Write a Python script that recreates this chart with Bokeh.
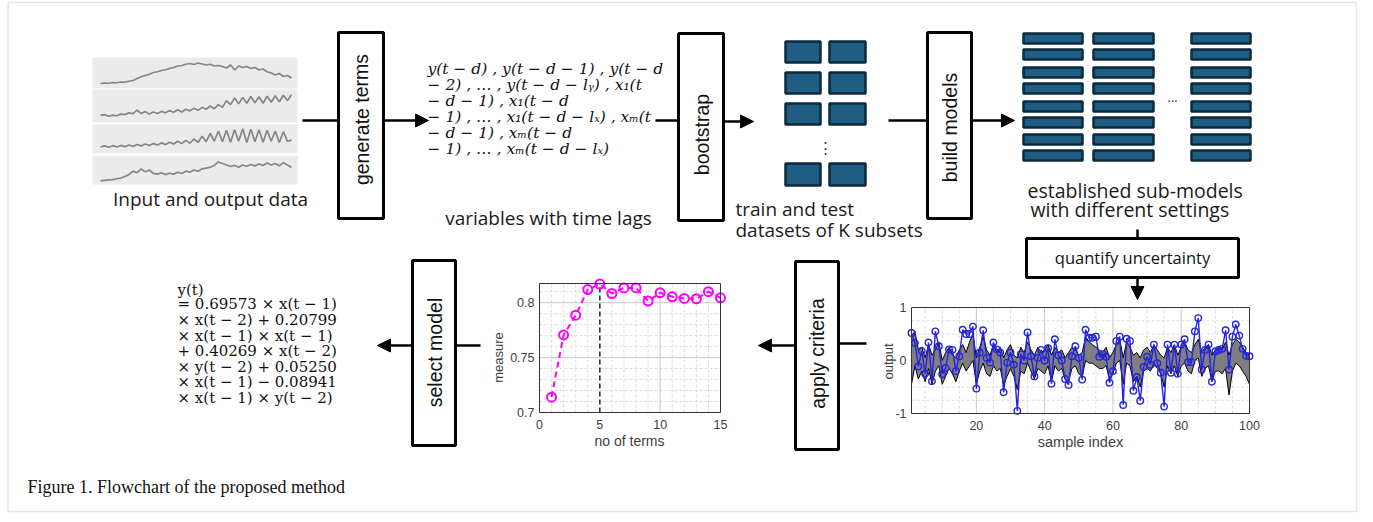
import math
from bokeh.plotting import figure
from bokeh.models import Range1d, Arrow, NormalHead
from bokeh.core.properties import value
from bokeh.embed import file_html
from bokeh.resources import INLINE

# ---------------- data ----------------
wave_1 = [0.08,0.10,0.09,0.12,0.11,0.14,0.13,0.17,0.20,0.28,0.35,0.40,0.45,0.52,0.55,0.60,
          0.63,0.68,0.72,0.78,0.80,0.85,0.88,0.84,0.90,0.86,0.82,0.85,0.78,0.80,0.76,0.70,
          0.82,0.62,0.78,0.72,0.76,0.68,0.72,0.62,0.66,0.55,0.50,0.42,0.48,0.36,0.40,0.30]
wave_2 = [0.15,0.18,0.12,0.16,0.14,0.20,0.18,0.25,0.22,0.35,0.22,0.30,0.20,0.28,0.22,0.30,
          0.25,0.33,0.27,0.36,0.28,0.38,0.32,0.42,0.34,0.45,0.38,0.50,0.40,0.55,0.45,0.70,
          0.55,0.80,0.58,0.82,0.60,0.85,0.62,0.84,0.60,0.86,0.64,0.88,0.66,0.90,0.70,0.92]
wave_3 = [0.15,0.20,0.14,0.21,0.15,0.22,0.17,0.24,0.18,0.26,0.20,0.28,0.22,0.30,0.24,0.33,
          0.26,0.36,0.28,0.40,0.30,0.44,0.32,0.50,0.35,0.62,0.38,0.75,0.40,0.85,0.38,0.88,
          0.36,0.90,0.40,0.95,0.35,0.92,0.38,0.90,0.36,0.88,0.40,0.85,0.35,0.82,0.40,0.45]
wave_4 = [0.03,0.05,0.07,0.08,0.12,0.15,0.22,0.30,0.45,0.38,0.55,0.42,0.50,0.35,0.32,0.38,
          0.30,0.36,0.32,0.40,0.35,0.45,0.40,0.50,0.45,0.55,0.58,0.62,0.70,0.85,0.78,0.72,
          0.65,0.70,0.62,0.72,0.66,0.74,0.68,0.76,0.70,0.80,0.72,0.78,0.68,0.82,0.72,0.62]

n_terms = list(range(1, 16))
measure = [0.714, 0.7707, 0.7886, 0.812, 0.817, 0.8084, 0.8135, 0.8135, 0.8015,
           0.809, 0.8054, 0.8039, 0.8036, 0.810, 0.8045]
selected_n = 5
measure_xticks = [0, 5, 10, 15]
measure_yticks = [0.7, 0.75, 0.8]

sample_index = list(range(1, 101))
output_obs = [0.52, 0.33, -0.11, 0.18, -0.25, 0.34, -0.39, 0.55, 0.27, -0.26,
              -0.14, 0.21, 0.20, -0.20, 0.08, 0.58, 0.50, 0.50, 0.64, -0.53,
              0.15, 0.57, 0.05, -0.04, 0.34, 0.21, 0.15, -0.60, -0.04, 0.15,
              -0.08, -0.95, 0.12, 0.00, 0.53, 0.08, -0.30, 0.05, 0.20, 0.00,
              0.23, -0.44, 0.40, 0.10, 0.00, -0.35, -0.46, 0.08, 0.27, 0.05,
              -0.36, 0.58, 0.43, 0.43, 0.45, 0.07, 0.12, 0.07, -0.42, -0.20,
              0.37, 0.45, -0.84, 0.41, 0.37, -0.57, -0.31, -0.76, -0.12, 0.07,
              -0.08, 0.30, -0.05, -0.23, -0.87, 0.30, -0.23, 0.30, -0.25, 0.30,
              0.40, -0.03, -0.03, 0.55, 0.80, -0.17, 0.20, 0.30, -0.40, 0.17,
              0.20, 0.22, 0.57, -0.17, 0.45, 0.68, 0.47, 0.22, 0.09, 0.08]
band_upper = [0.45, 0.55, 0.20, 0.25, 0.05, 0.30, 0.10, 0.20, 0.35, 0.00,
              0.15, 0.25, 0.10, 0.05, 0.20, 0.30, 0.15, 0.35, 0.50, 0.05,
              0.25, 0.45, 0.20, 0.10, 0.30, 0.15, 0.25, 0.05, 0.20, 0.30,
              0.10, 0.05, 0.25, 0.15, 0.35, 0.20, 0.10, 0.25, 0.15, 0.20,
              0.30, 0.10, 0.25, 0.15, 0.20, 0.05, 0.15, 0.25, 0.20, 0.10,
              0.15, 0.45, 0.35, 0.30, 0.25, 0.20, 0.15, 0.25, 0.05, 0.15,
              0.30, 0.40, 0.05, 0.35, 0.25, 0.10, 0.15, 0.05, 0.20, 0.25,
              0.15, 0.30, 0.20, 0.10, 0.05, 0.25, 0.15, 0.30, 0.10, 0.25,
              0.35, 0.20, 0.15, 0.30, 0.40, 0.15, 0.25, 0.30, 0.10, 0.20,
              0.25, 0.20, 0.35, 0.10, 0.30, 0.40, 0.35, 0.25, 0.15, 0.10]
band_lower = [-0.45, -0.10, -0.35, -0.20, -0.40, -0.15, -0.45, -0.20, -0.10, -0.45,
              -0.30, -0.15, -0.25, -0.40, -0.20, -0.05, -0.20, -0.10, 0.00, -0.45,
              -0.20, -0.05, -0.25, -0.30, -0.10, -0.20, -0.15, -0.45, -0.30, -0.15,
              -0.30, -0.55, -0.20, -0.25, -0.05, -0.20, -0.35, -0.15, -0.20, -0.25,
              -0.10, -0.40, -0.10, -0.20, -0.15, -0.35, -0.40, -0.15, -0.10, -0.25,
              -0.30, 0.00, -0.05, -0.05, -0.10, -0.15, -0.15, -0.10, -0.35, -0.25,
              -0.05, 0.00, -0.45, -0.05, -0.10, -0.40, -0.30, -0.50, -0.20, -0.15,
              -0.20, -0.05, -0.15, -0.25, -0.50, -0.10, -0.25, -0.10, -0.30, -0.10,
              -0.05, -0.20, -0.25, 0.00, 0.05, -0.30, -0.15, -0.10, -0.40, -0.20,
              -0.20, -0.25, -0.15, -0.65, -0.20, -0.05, -0.10, -0.20, -0.30, -0.45]
output_xticks = [20, 40, 60, 80, 100]
output_yticks = [-1, 0, 1]

lag_lines = ["y(t − d) , y(t − d − 1) , y(t − d",
             "− 2) , … , y(t − d − lᵧ) , x₁(t",
             "− d − 1) , x₁(t − d",
             "− 1) , … , x₁(t − d − lₓ) , xₘ(t",
             "− d − 1) , xₘ(t − d",
             "− 1) , … , xₘ(t − d − lₓ)"]
model_lines = ["y(t)",
               "= 0.69573 × x(t − 1)",
               "×  x(t − 2) + 0.20799",
               "× x(t − 1)  ×  x(t − 1)",
               "+ 0.40269 × x(t − 2)",
               "×  y(t − 2) + 0.05250",
               "× x(t − 1) − 0.08941",
               "× x(t − 1)  ×  y(t − 2)"]

# ---------------- canvas ----------------
p = figure(width=1357, height=514, x_range=Range1d(0, 1357), y_range=Range1d(514, 0),
           output_backend="svg", toolbar_location=None, x_axis_type=None, y_axis_type=None,
           min_border=0)
p.outline_line_color = None
p.background_fill_color = "white"
p.border_fill_color = "white"

SANS = value("Open Sans")
BOXF = value("Liberation Sans")
SERIF = value("DejaVu Serif")
CAPF = value("Liberation Serif")

# outer light frame
p.quad(left=[7.5], right=[1356], top=[2], bottom=[511], fill_color=None,
       line_color="#e6e6e6", line_width=1.5)


def inset(xs, ys, xt, yt):
    return p.subplot(x_source=Range1d(*xs), y_source=Range1d(*ys),
                     x_target=Range1d(*xt), y_target=Range1d(*yt))


# ---------- input data panels ----------
panels = [(57, 88), (89, 122), (124, 153), (155, 184)]
waves = [wave_1, wave_2, wave_3, wave_4]
p.quad(left=[92] * 4, right=[297] * 4, top=[a for a, b in panels], bottom=[b for a, b in panels],
       fill_color="#ebebeb", line_color=None)
for (top, bot), w in zip(panels, waves):
    sp = inset((0, len(w) - 1), (0, 1), (100, 291), (bot - 3, top + 3))
    sp.line(x=list(range(len(w))), y=w, line_color="#858585", line_width=1.7)
p.text(x=[210], y=[198], text=["Input and output data"], text_font=SANS, text_font_size="19px",
       text_align="center", text_baseline="middle", text_color="#1a1a1a")

# ---------- boxes ----------
boxes = [(338, 383, 32, 218), (678, 723, 33, 220), (927, 971, 32, 218),
         (412, 455, 260, 445), (795, 838, 261, 449), (1026, 1238, 238, 277)]
p.quad(left=[b[0] for b in boxes], right=[b[1] for b in boxes], top=[b[2] for b in boxes],
       bottom=[b[3] for b in boxes], fill_color="white", line_color="black", line_width=3)
p.text(x=[361, 701, 949, 434, 817], y=[119, 134, 127, 352, 353],
       text=["generate terms", "bootstrap", "build models", "select model", "apply criteria"],
       angle=[math.pi / 2] * 5, text_font=BOXF, text_font_size="19.5px",
       text_align="center", text_baseline="middle", text_color="#111111")
p.text(x=[1132], y=[257], text=["quantify uncertainty"], text_font=SANS, text_font_size="16.5px",
       text_align="center", text_baseline="middle", text_color="#111111")

# ---------- connectors ----------
p.segment(x0=[302, 655, 888, 1137, 866, 480], y0=[120, 120, 120, 229, 343, 345],
          x1=[338, 678, 927, 1137, 838, 455], y1=[120, 120, 120, 238, 343, 345],
          line_color="black", line_width=2.5)
for xs, ys, xe, ye in [(383, 120, 428, 120), (723, 121, 753, 121), (971, 120, 1014, 120),
                       (1137, 277, 1137, 299), (795, 345, 758, 345), (412, 345, 377, 345)]:
    p.add_layout(Arrow(end=NormalHead(size=13, fill_color="black", line_color="black"),
                       x_start=xs, y_start=ys, x_end=xe, y_end=ye,
                       line_color="black", line_width=2.5))

# ---------- lag variables text ----------
p.text(x=[427] * len(lag_lines), y=[68, 84, 100, 116, 132, 148], text=lag_lines,
       text_font=SERIF, text_font_style="italic", text_font_size="15.5px",
       text_align="left", text_baseline="middle", text_color="#111111")
p.text(x=[548], y=[217], text=["variables with time lags"], text_font=SANS,
       text_font_size="19px", text_align="center", text_baseline="middle", text_color="#1a1a1a")

# ---------- bootstrap subsets ----------
blk_l, blk_r, blk_t, blk_b = [], [], [], []
for (t, b) in [(41, 62), (72, 93), (103, 124), (163, 185)]:
    for (l, r) in [(785, 820), (829, 865)]:
        blk_l.append(l); blk_r.append(r); blk_t.append(t); blk_b.append(b)
p.quad(left=blk_l, right=blk_r, top=blk_t, bottom=blk_b, fill_color="#1f5d82",
       line_color="#0b2a3d", line_width=2.5)
p.text(x=[825], y=[146], text=["⋮"], text_font=SANS, text_font_size="15px",
       text_align="center", text_baseline="middle", text_color="#333333")
p.text(x=[735, 735], y=[208, 229], text=["train and test", "datasets of K subsets"],
       text_font=SANS, text_font_size="19px", text_align="left", text_baseline="middle",
       text_color="#1a1a1a")

# ---------- sub-models ----------
sm_l, sm_r, sm_t, sm_b = [], [], [], []
for t in [33, 49, 67, 83, 101, 117, 134, 150]:
    for (l, r) in [(1023, 1082), (1093, 1153), (1191, 1250)]:
        sm_l.append(l); sm_r.append(r); sm_t.append(t); sm_b.append(t + 10)
p.quad(left=sm_l, right=sm_r, top=sm_t, bottom=sm_b, fill_color="#1f5d82",
       line_color="#0b2a3d", line_width=2.5)
p.text(x=[1172], y=[96], text=["…"], text_font=SANS, text_font_size="13px",
       text_align="center", text_baseline="middle", text_color="#333333")
p.text(x=[1027, 1030], y=[190, 209], text=["established sub-models", "with different settings"],
       text_font=SANS, text_font_size="19.5px", text_align="left", text_baseline="middle",
       text_color="#1a1a1a")

# ---------- uncertainty plot ----------
u = inset((1, 100), (-1, 1), (911, 1249), (413, 307))
minor_x = [v for v in range(5, 100, 5) if v % 20 != 0]
u.segment(x0=minor_x, y0=[-1] * len(minor_x), x1=minor_x, y1=[1] * len(minor_x),
          line_color="#dddddd", line_width=1, line_dash="3 2")
minor_y = [-0.75, -0.5, -0.25, 0.25, 0.5, 0.75]
u.segment(x0=[1] * len(minor_y), y0=minor_y, x1=[100] * len(minor_y), y1=minor_y,
          line_color="#dddddd", line_width=1, line_dash="3 2")
u.segment(x0=output_xticks[:-1], y0=[-1] * 4, x1=output_xticks[:-1], y1=[1] * 4,
          line_color="#c8c8c8", line_width=1)
u.segment(x0=[1], y0=[0], x1=[100], y1=[0], line_color="#c8c8c8", line_width=1)
u.varea(x=sample_index, y1=band_lower, y2=band_upper, fill_color="#7f7f7f", fill_alpha=1)
u.line(x=sample_index, y=band_upper, line_color="black", line_width=1)
u.line(x=sample_index, y=band_lower, line_color="black", line_width=1)
u.line(x=sample_index, y=output_obs, line_color="#2323e0", line_width=1.4)
u.scatter(x=sample_index, y=output_obs, marker="circle", size=6.5, fill_color=None,
          line_color="#2323e0", line_width=1.4)
u.quad(left=[1], right=[100], bottom=[-1], top=[1], fill_color=None,
       line_color="#333333", line_width=1)
u.text(x=output_xticks, y=[-1] * 5, text=[str(v) for v in output_xticks], y_offset=7,
       text_font=BOXF, text_font_size="12.5px", text_align="center", text_baseline="top",
       text_color="#404040")
u.text(x=[1] * 3, y=output_yticks, text=[str(v) for v in output_yticks], x_offset=-5,
       text_font=BOXF, text_font_size="12.5px", text_align="right", text_baseline="middle",
       text_color="#404040")
p.text(x=[1080], y=[441], text=["sample index"], text_font=BOXF, text_font_size="14.5px",
       text_align="center", text_baseline="middle", text_color="#404040")
p.text(x=[888], y=[361], text=["output"], angle=[math.pi / 2], text_font=BOXF,
       text_font_size="13px", text_align="center", text_baseline="middle", text_color="#404040")

# ---------- measure plot ----------
m = inset((0, 15), (0.7, 0.8175), (539, 720), (412, 283))
mx = [v for v in range(1, 15) if v % 5 != 0]
m.segment(x0=mx, y0=[0.7] * len(mx), x1=mx, y1=[0.8175] * len(mx),
          line_color="#dddddd", line_width=1, line_dash="3 2")
my = [0.71, 0.72, 0.73, 0.74, 0.76, 0.77, 0.78, 0.79, 0.81]
m.segment(x0=[0] * len(my), y0=my, x1=[15] * len(my), y1=my,
          line_color="#dddddd", line_width=1, line_dash="3 2")
m.segment(x0=[10], y0=[0.7], x1=[10], y1=[0.8175], line_color="#c8c8c8", line_width=1)
m.segment(x0=[0, 0], y0=[0.75, 0.8], x1=[15, 15], y1=[0.75, 0.8],
          line_color="#c8c8c8", line_width=1)
m.segment(x0=[selected_n], y0=[0.7], x1=[selected_n], y1=[0.8175], line_color="#222222",
          line_width=1.5, line_dash="5 3")
m.line(x=n_terms, y=measure, line_color="#ff00ff", line_width=2, line_dash="6 4")
m.scatter(x=n_terms, y=measure, marker="circle", size=9, fill_color=None,
          line_color="#ff00ff", line_width=2)
m.quad(left=[0], right=[15], bottom=[0.7], top=[0.8175], fill_color=None,
       line_color="#333333", line_width=1)
m.text(x=measure_xticks, y=[0.7] * 4, text=[str(v) for v in measure_xticks], y_offset=7,
       text_font=BOXF, text_font_size="12.5px", text_align="center", text_baseline="top",
       text_color="#404040")
m.text(x=[0] * 3, y=measure_yticks, text=["0.7", "0.75", "0.8"], x_offset=-5,
       text_font=BOXF, text_font_size="12.5px", text_align="right", text_baseline="middle",
       text_color="#404040")
p.text(x=[629], y=[440], text=["no of terms"], text_font=BOXF, text_font_size="14px",
       text_align="center", text_baseline="middle", text_color="#404040")
p.text(x=[498], y=[357], text=["measure"], angle=[math.pi / 2], text_font=BOXF,
       text_font_size="13px", text_align="center", text_baseline="middle", text_color="#404040")

# ---------- selected model equation ----------
p.text(x=[177] * len(model_lines), y=[289, 303, 319, 335, 350, 366, 381, 397], text=model_lines,
       text_font=SERIF, text_font_size="15px", text_align="left", text_baseline="middle",
       text_color="#111111")

# ---------- caption ----------
p.text(x=[27], y=[486], text=["Figure 1. Flowchart of the proposed method"], text_font=CAPF,
       text_font_size="18px", text_align="left", text_baseline="middle", text_color="#111111")

open("out.html", "w").write(file_html(p, INLINE))
